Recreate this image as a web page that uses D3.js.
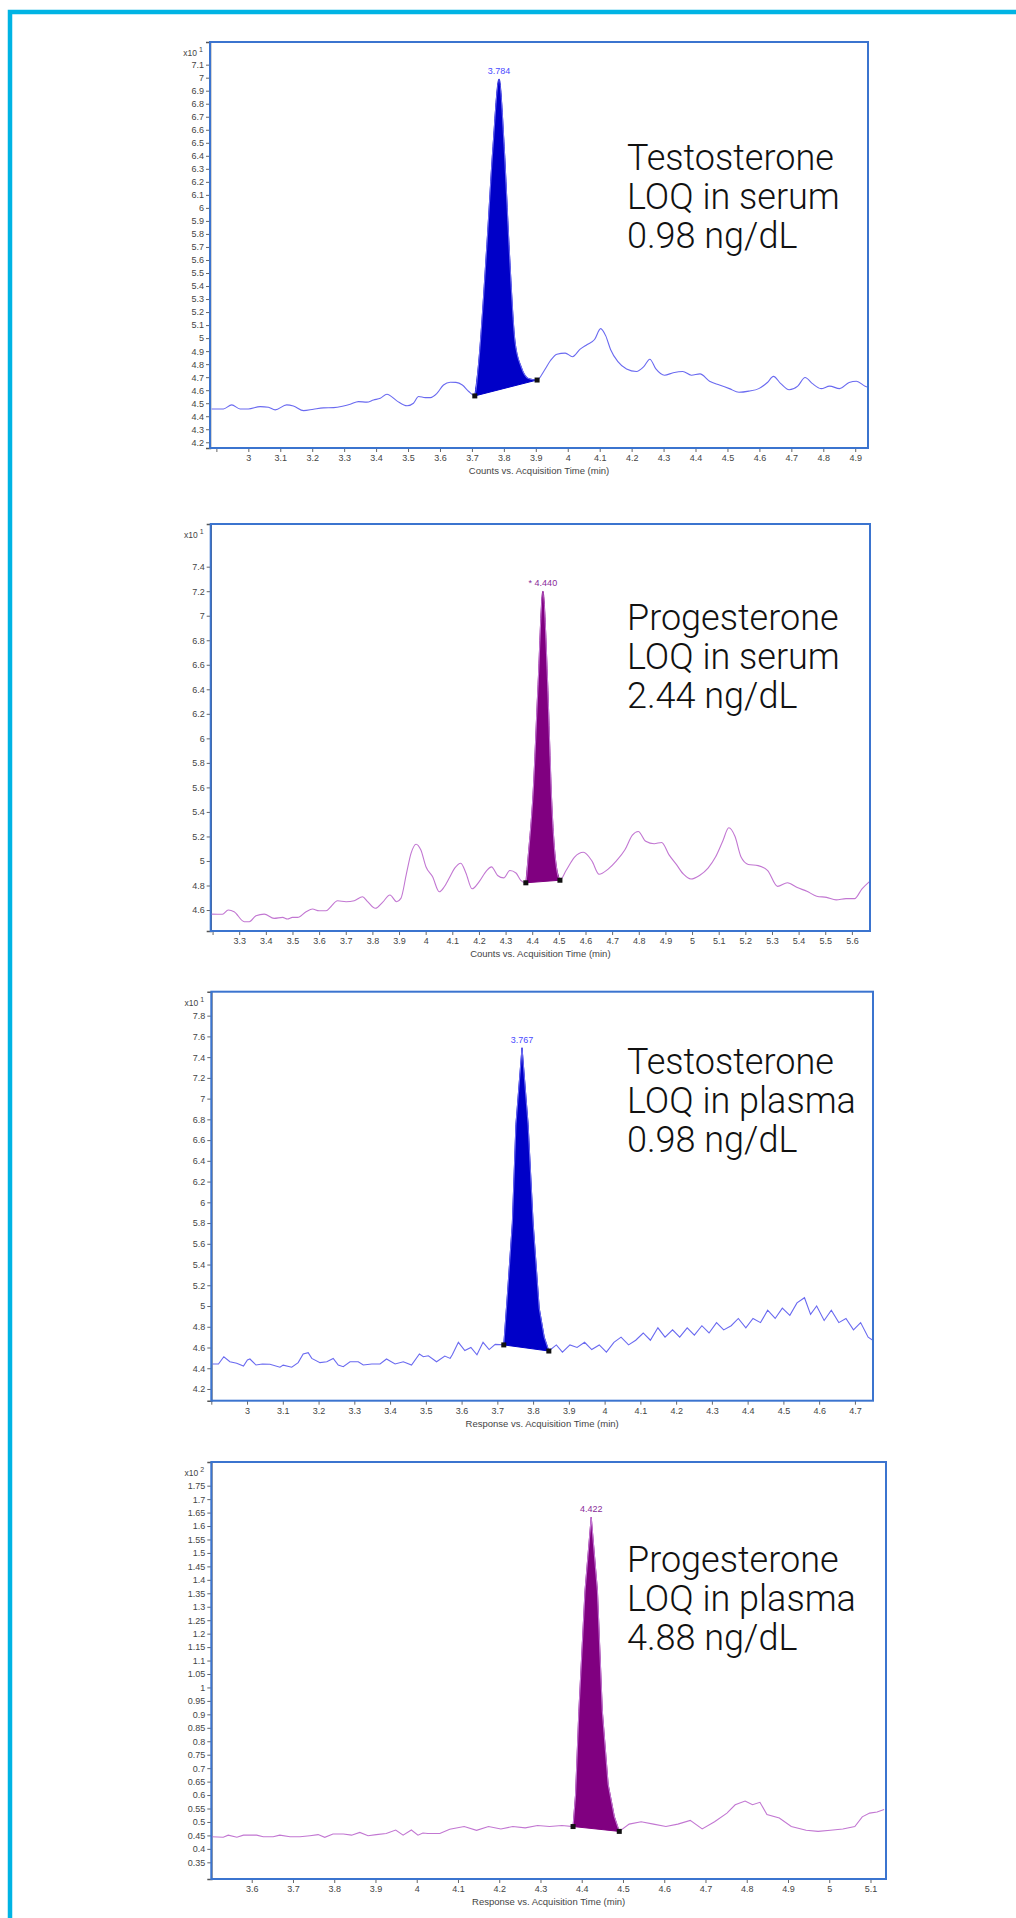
<!DOCTYPE html>
<html><head><meta charset="utf-8">
<script src="https://cdn.jsdelivr.net/npm/d3@7"></script>
<style>body{margin:0;background:#fff;} svg{display:block;}</style>
</head><body>
<script>
// ---------------- DATA ----------------
// Panel 1: Testosterone, serum (x10^1 counts)
const p1Times = [2.885,2.922,2.948,2.974,3.000,3.037,3.063,3.084,3.120,3.141,3.173,3.204,3.235,3.267,3.298,3.319,3.345,3.371,3.392,3.413,3.434,3.465,3.497,3.517,3.533,3.554,3.570,3.591,3.611,3.632,3.650,3.670,3.690,
  3.709,3.720,3.747,3.766,3.785,3.801,3.816,3.835,3.854,3.877,3.904,
  3.927,3.946,3.966,3.992,4.015,4.038,4.061,4.084,4.103,4.119,4.134,4.157,4.184,4.215,4.238,4.257,4.276,4.303,4.330,4.360,4.387,4.414,4.444,4.475,4.506,4.536,4.567,4.598,4.625,4.644,4.667,4.693,4.720,4.743,4.766,4.793,4.820,4.851,4.881,4.904,4.931,4.943];
const p1Values = [4.456,4.456,4.487,4.456,4.456,4.474,4.469,4.449,4.487,4.479,4.443,4.454,4.464,4.466,4.479,4.492,4.512,4.508,4.525,4.538,4.569,4.518,4.480,4.500,4.551,4.543,4.543,4.577,4.640,4.661,4.660,4.640,4.590,
  4.556,4.780,5.720,6.470,6.990,6.470,5.720,4.970,4.780,4.690,4.678,
  4.753,4.828,4.876,4.885,4.857,4.913,4.951,4.989,5.073,5.017,4.913,4.819,4.763,4.744,4.781,4.838,4.763,4.715,4.734,4.744,4.715,4.725,4.669,4.640,4.612,4.584,4.593,4.612,4.659,4.706,4.650,4.603,4.631,4.697,4.650,4.612,4.631,4.612,4.659,4.669,4.631,4.622];
const p1Peak = [3.709, 3.904];
const p1PeakLabel = "3.784";
const p1YTicks = [4.2,4.3,4.4,4.5,4.6,4.7,4.8,4.9,5,5.1,5.2,5.3,5.4,5.5,5.6,5.7,5.8,5.9,6,6.1,6.2,6.3,6.4,6.5,6.6,6.7,6.8,6.9,7,7.1];
const p1XTicks = [2.9,3,3.1,3.2,3.3,3.4,3.5,3.6,3.7,3.8,3.9,4,4.1,4.2,4.3,4.4,4.5,4.6,4.7,4.8,4.9];
const p1XLabels = ["","3","3.1","3.2","3.3","3.4","3.5","3.6","3.7","3.8","3.9","4","4.1","4.2","4.3","4.4","4.5","4.6","4.7","4.8","4.9"];
const p1Note = ["Testosterone","LOQ in serum","0.98 ng/dL"];

// Panel 2: Progesterone, serum (x10^1 counts)
const p2Times = [3.194,3.237,3.259,3.281,3.319,3.338,3.363,3.394,3.431,3.463,3.481,3.500,3.519,3.551,3.575,3.600,3.626,3.644,3.669,3.701,3.732,3.763,3.782,3.811,3.838,3.866,3.891,3.907,3.928,3.945,3.964,3.982,4.001,4.026,4.051,4.070,4.089,
  4.109,4.132,4.151,4.174,4.201,4.229,4.247,4.270,4.293,4.316,4.339,4.357,
  4.376,4.385,4.403,4.422,4.440,4.458,4.472,4.486,4.504,
  4.527,4.559,4.592,4.624,4.651,4.684,4.716,4.748,4.776,4.798,4.826,4.858,4.886,4.913,4.941,4.968,4.996,5.028,5.060,5.088,5.115,5.138,5.161,5.184,5.211,5.248,5.284,5.321,5.358,5.395,5.431,5.468,5.505,5.541,5.578,5.610,5.638,5.666];
const p2Values = [4.567,4.565,4.600,4.586,4.505,4.505,4.554,4.567,4.532,4.540,4.527,4.540,4.540,4.586,4.608,4.594,4.594,4.627,4.676,4.668,4.676,4.708,4.668,4.614,4.663,4.722,4.668,4.695,4.899,5.062,5.137,5.089,4.953,4.871,4.749,4.790,4.863,
  4.942,4.982,4.902,4.773,4.832,4.922,4.952,4.882,4.862,4.922,4.902,4.842,
  4.822,5.040,5.540,6.440,7.200,6.440,5.540,5.040,4.843,
  4.922,5.032,5.071,5.001,4.892,4.932,5.001,5.091,5.211,5.241,5.161,5.141,5.151,5.052,4.972,4.892,4.853,4.882,4.942,5.032,5.161,5.271,5.201,5.032,4.972,4.962,4.922,4.793,4.822,4.783,4.753,4.713,4.703,4.683,4.693,4.693,4.773,4.832];
const p2Peak = [4.376, 4.504];
const p2PeakLabel = "* 4.440";
const p2YTicks = [4.6,4.8,5,5.2,5.4,5.6,5.8,6,6.2,6.4,6.6,6.8,7,7.2,7.4];
const p2XTicks = [3.2,3.3,3.4,3.5,3.6,3.7,3.8,3.9,4,4.1,4.2,4.3,4.4,4.5,4.6,4.7,4.8,4.9,5,5.1,5.2,5.3,5.4,5.5,5.6];
const p2XLabels = ["","3.3","3.4","3.5","3.6","3.7","3.8","3.9","4","4.1","4.2","4.3","4.4","4.5","4.6","4.7","4.8","4.9","5","5.1","5.2","5.3","5.4","5.5","5.6"];
const p2Note = ["Progesterone","LOQ in serum","2.44 ng/dL"];

// Panel 3: Testosterone, plasma (x10^1 response)
const p3Times = [2.903,2.920,2.935,2.952,2.971,2.990,3.001,3.008,3.025,3.043,3.064,3.092,3.101,3.125,3.143,3.157,3.171,3.181,3.204,3.223,3.241,3.255,3.269,3.288,3.311,3.325,3.349,3.372,3.390,3.414,3.437,3.460,3.482,3.493,3.507,3.530,3.553,3.568,
  3.574,3.591,3.609,3.626,3.643,3.660,3.677,3.694,
  3.718,3.728,3.742,3.752,3.769,3.786,3.800,3.817,3.831,3.844,
  3.865,3.882,3.903,3.923,3.944,3.964,3.985,4.005,4.026,4.046,4.067,4.087,4.108,4.128,4.149,4.169,4.190,4.210,4.231,4.251,4.272,4.292,4.313,4.333,4.354,4.374,4.395,4.415,4.436,4.456,4.477,4.497,4.518,4.538,4.559,4.576,4.593,4.614,4.634,4.655,4.675,4.696,4.716,4.737,4.750];
const p3Values = [4.441,4.441,4.511,4.463,4.448,4.422,4.480,4.489,4.431,4.441,4.438,4.410,4.430,4.410,4.454,4.537,4.550,4.495,4.454,4.463,4.495,4.431,4.415,4.463,4.463,4.431,4.441,4.441,4.489,4.441,4.463,4.431,4.537,4.511,4.520,4.463,4.518,4.495,
  4.530,4.650,4.570,4.600,4.530,4.650,4.580,4.630,
  4.625,5.100,5.800,6.750,7.490,6.750,5.800,4.980,4.700,4.566,
  4.625,4.555,4.625,4.600,4.650,4.580,4.625,4.555,4.650,4.700,4.625,4.670,4.740,4.670,4.790,4.700,4.770,4.700,4.790,4.720,4.810,4.740,4.840,4.770,4.810,4.880,4.790,4.880,4.840,4.960,4.880,4.980,4.910,5.030,5.080,4.920,5.000,4.860,4.960,4.840,4.880,4.770,4.840,4.700,4.670];
const p3Peak = [3.718, 3.844];
const p3PeakLabel = "3.767";
const p3YTicks = [4.2,4.4,4.6,4.8,5,5.2,5.4,5.6,5.8,6,6.2,6.4,6.6,6.8,7,7.2,7.4,7.6,7.8];
const p3XTicks = [2.9,3,3.1,3.2,3.3,3.4,3.5,3.6,3.7,3.8,3.9,4,4.1,4.2,4.3,4.4,4.5,4.6,4.7];
const p3XLabels = ["","3","3.1","3.2","3.3","3.4","3.5","3.6","3.7","3.8","3.9","4","4.1","4.2","4.3","4.4","4.5","4.6","4.7"];
const p3Note = ["Testosterone","LOQ in plasma","0.98 ng/dL"];

// Panel 4: Progesterone, plasma (x10^2 response)
const p4Times = [3.503,3.531,3.543,3.564,3.580,3.612,3.628,3.652,3.668,3.693,3.717,3.741,3.761,3.777,3.797,3.822,3.842,3.862,3.882,3.902,3.926,3.949,3.967,3.987,4.003,4.015,4.027,4.056,4.080,
  4.115,4.145,4.174,4.204,4.233,4.263,4.293,4.322,4.352,
  4.379,4.385,4.393,4.408,4.423,4.438,4.450,4.464,4.479,4.491,
  4.515,4.544,4.574,4.604,4.633,4.663,4.692,4.722,4.752,4.772,4.796,4.814,4.832,4.849,4.879,4.908,4.944,4.973,5.003,5.033,5.062,5.080,5.098,5.116,5.133];
const p4Values = [0.445,0.443,0.451,0.443,0.451,0.451,0.445,0.445,0.451,0.445,0.445,0.449,0.453,0.443,0.455,0.455,0.451,0.461,0.449,0.453,0.457,0.470,0.451,0.470,0.451,0.459,0.457,0.457,0.473,
  0.483,0.469,0.483,0.474,0.483,0.478,0.487,0.483,0.487,
  0.483,0.600,0.910,1.360,1.633,1.360,0.910,0.640,0.520,0.465,
  0.492,0.501,0.492,0.483,0.492,0.506,0.474,0.501,0.533,0.564,0.578,0.564,0.573,0.528,0.515,0.483,0.469,0.465,0.469,0.474,0.483,0.519,0.533,0.537,0.546];
const p4Peak = [4.379, 4.491];
const p4PeakLabel = "4.422";
const p4YTicks = [0.35,0.4,0.45,0.5,0.55,0.6,0.65,0.7,0.75,0.8,0.85,0.9,0.95,1,1.05,1.1,1.15,1.2,1.25,1.3,1.35,1.4,1.45,1.5,1.55,1.6,1.65,1.7,1.75];
const p4XTicks = [3.6,3.7,3.8,3.9,4,4.1,4.2,4.3,4.4,4.5,4.6,4.7,4.8,4.9,5,5.1];
const p4XLabels = ["3.6","3.7","3.8","3.9","4","4.1","4.2","4.3","4.4","4.5","4.6","4.7","4.8","4.9","5","5.1"];
const p4Note = ["Progesterone","LOQ in plasma","4.88 ng/dL"];

// ---------------- LAYOUT ----------------
const W = 1016, H = 1918;
const BLUE = {line:"#6a6af0", fill:"#0000c8", label:"#4a4aff"};
const PURPLE = {line:"#c277d2", fill:"#800080", label:"#8a2a9a"};

const panels = [
  {times:p1Times, values:p1Values, peak:p1Peak, peakLabel:p1PeakLabel, yTicks:p1YTicks, xTicks:p1XTicks, xLabels:p1XLabels, note:p1Note,
   exp:"1", title:"Counts vs. Acquisition Time (min)", color:BLUE, curve:d3.curveMonotoneX,
   left:210, right:868, top:42, bottom:448, xDomain:[2.88,4.94], yDomain:[4.156,7.274], noteY:170},
  {times:p2Times, values:p2Values, peak:p2Peak, peakLabel:p2PeakLabel, yTicks:p2YTicks, xTicks:p2XTicks, xLabels:p2XLabels, note:p2Note,
   exp:"1", title:"Counts vs. Acquisition Time (min)", color:PURPLE, curve:d3.curveMonotoneX,
   left:210.7, right:870, top:524, bottom:931, xDomain:[3.193,5.668], yDomain:[4.429,7.748], noteY:630},
  {times:p3Times, values:p3Values, peak:p3Peak, peakLabel:p3PeakLabel, yTicks:p3YTicks, xTicks:p3XTicks, xLabels:p3XLabels, note:p3Note,
   exp:"1", title:"Response vs. Acquisition Time (min)", color:BLUE, curve:d3.curveLinear,
   left:211.3, right:873, top:991.7, bottom:1400.7, xDomain:[2.9,4.7506], yDomain:[4.087,8.031], noteY:1074},
  {times:p4Times, values:p4Values, peak:p4Peak, peakLabel:p4PeakLabel, yTicks:p4YTicks, xTicks:p4XTicks, xLabels:p4XLabels, note:p4Note,
   exp:"2", title:"Response vs. Acquisition Time (min)", color:PURPLE, curve:d3.curveLinear,
   left:211.3, right:886, top:1462, bottom:1879, xDomain:[3.502,5.1376], yDomain:[0.288,1.838], noteY:1572}
];

const svg = d3.select("body").append("svg").attr("width", W).attr("height", H);
svg.append("rect").attr("width", W).attr("height", H).attr("fill", "#fff");

// outer cyan frame (right and bottom edges fall outside the picture)
svg.append("path").attr("d", `M10,${H+10} L10,12 L${W+10},12`)
  .attr("fill","none").attr("stroke","#00b4e4").attr("stroke-width",4.5);

const defs = svg.append("defs");
const AXFONT = "'Liberation Sans', Arial, sans-serif";

panels.forEach((p, pi) => {
  const x = d3.scaleLinear().domain(p.xDomain).range([p.left, p.right]);
  const y = d3.scaleLinear().domain(p.yDomain).range([p.bottom, p.top]);
  const g = svg.append("g");

  defs.append("clipPath").attr("id", "clip"+pi).append("rect")
    .attr("x", p.left).attr("y", p.top).attr("width", p.right - p.left).attr("height", p.bottom - p.top);

  // y axis
  const ya = g.append("g").attr("transform", `translate(${p.left},0)`)
    .call(d3.axisLeft(y).tickValues(p.yTicks).tickSize(4).tickPadding(2).tickFormat(d3.format("~g")));
  ya.select(".domain").attr("stroke","#555").attr("stroke-width",1.5);
  ya.selectAll(".tick line").attr("stroke","#666");
  ya.selectAll(".tick text").attr("fill","#444").style("font-family",AXFONT).style("font-size","9px");

  // x axis
  const xa = g.append("g").attr("transform", `translate(0,${p.bottom})`)
    .call(d3.axisBottom(x).tickValues(p.xTicks).tickSize(4).tickPadding(3).tickFormat((d,i)=>p.xLabels[i]));
  xa.select(".domain").remove();
  xa.selectAll(".tick line").attr("stroke","#666");
  xa.selectAll(".tick text").attr("fill","#444").style("font-family",AXFONT).style("font-size","9px");

  // axis title
  g.append("text").attr("x", (p.left + p.right)/2).attr("y", p.bottom + 26)
    .attr("text-anchor","middle").attr("fill","#444")
    .style("font-family",AXFONT).style("font-size","9.5px").text(p.title);

  // exponent label
  const ex = g.append("text").attr("x", p.left - 13).attr("y", p.top + 14)
    .attr("text-anchor","end").attr("fill","#444")
    .style("font-family",AXFONT).style("font-size","8.5px");
  ex.append("tspan").text("x10");
  g.append("text").attr("x", p.left - 11).attr("y", p.top + 10)
    .attr("fill","#444").style("font-family",AXFONT).style("font-size","7px").text(p.exp);

  const pts = p.times.map((t,i)=>[t, p.values[i]]);
  const line = d3.line().x(d=>x(d[0])).y(d=>y(d[1])).curve(p.curve);
  const plot = g.append("g").attr("clip-path", `url(#clip${pi})`);

  // integrated peak area (trace between markers, closed by straight baseline)
  const peakPts = pts.filter(d => d[0] >= p.peak[0] - 1e-9 && d[0] <= p.peak[1] + 1e-9);
  plot.append("path").attr("d", line(peakPts) + "Z")
    .attr("fill", p.color.fill).attr("stroke", p.color.fill).attr("stroke-width", 1);

  // trace
  plot.append("path").attr("d", line(pts))
    .attr("fill","none").attr("stroke", p.color.line).attr("stroke-width", 1.1);

  // baseline markers
  [peakPts[0], peakPts[peakPts.length-1]].forEach(d => {
    g.append("rect").attr("x", x(d[0]) - 2.5).attr("y", y(d[1]) - 2.5)
      .attr("width", 5).attr("height", 5).attr("fill", "#111");
  });

  // apex label
  const apex = peakPts.reduce((a,b)=> b[1] > a[1] ? b : a);
  g.append("text").attr("x", x(apex[0])).attr("y", y(apex[1]) - 5)
    .attr("text-anchor","middle").attr("fill", p.color.label)
    .style("font-family",AXFONT).style("font-size","9px").text(p.peakLabel);

  // plot frame
  g.append("rect").attr("x", p.left).attr("y", p.top)
    .attr("width", p.right - p.left).attr("height", p.bottom - p.top)
    .attr("fill","none").attr("stroke","#3b74cf").attr("stroke-width",2);

  // annotation
  p.note.forEach((s, i) => {
    g.append("text").attr("x", 627).attr("y", p.noteY + i*39.2)
      .attr("fill","#111").style("font-family","Roboto, sans-serif").style("font-weight",300)
      .style("font-size","36px").text(s);
  });
});
</script>
</body></html>
